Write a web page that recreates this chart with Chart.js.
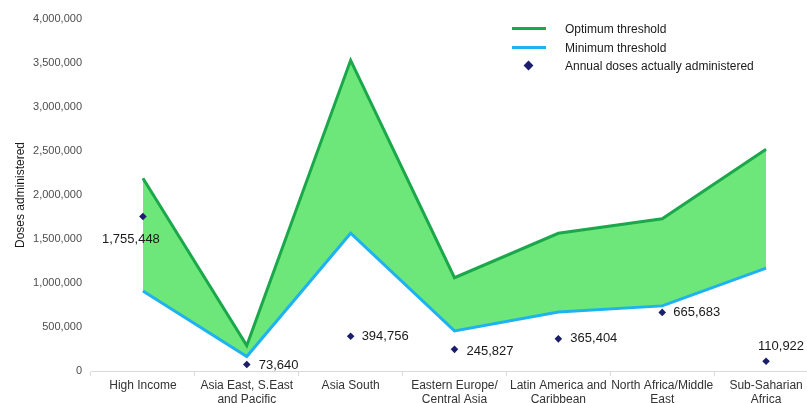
<!DOCTYPE html>
<html>
<head>
<meta charset="utf-8">
<script src="https://cdn.jsdelivr.net/npm/chart.js@4.4.1/dist/chart.umd.min.js"></script>
<style>
  html, body { margin: 0; padding: 0; background: #fff; overflow: hidden; }
  body { width: 807px; height: 403px; position: relative; font-family: "Liberation Sans", Arial, sans-serif; }
  #chart { position: absolute; left: 0; top: 0; }
  #legend { position: absolute; left: 512px; top: 20px; font-size: 12px; color: #1a1a1a; }
  .row { display: flex; align-items: center; height: 18.5px; }
  .sw { width: 34px; height: 10px; position: relative; margin-right: 19px; }
</style>
</head>
<body>
<canvas id="chart" width="830" height="403"></canvas>
<div id="legend"></div>
<script>
// Regioes (rotulos do eixo X, em duas linhas quando necessario)
const regions = [
  ['High Income'],
  ['Asia East, S.East', 'and Pacific'],
  ['Asia South'],
  ['Eastern Europe/', 'Central Asia'],
  ['Latin America and', 'Caribbean'],
  ['North Africa/Middle', 'East'],
  ['Sub-Saharian', 'Africa']
];

// Valores
const optimumThreshold = [2190000, 290000, 3530000, 1060000, 1565000, 1730000, 2520000];
const minimumThreshold = [910000, 165000, 1565000, 455000, 670000, 740000, 1170000];
const actualDoses      = [1755448, 73640, 394756, 245827, 365404, 665683, 110922];

// Eixo Y
const yMax = 4000000;
const yStep = 500000;

const FONT = '"Liberation Sans", Arial, sans-serif';

// Posicao dos rotulos de cada ponto (relativa ao marcador)
const labelPlace = [
  { align: 'center', dx: -12, dy: 23 },
  { align: 'left', dx: 12, dy: 1 },
  { align: 'left', dx: 11, dy: 0 },
  { align: 'left', dx: 12, dy: 2 },
  { align: 'left', dx: 12, dy: 0 },
  { align: 'left', dx: 11, dy: 0 },
  { align: 'center', dx: 15, dy: -15 }
];

// Desenha os valores ao lado dos losangos
const doseLabels = {
  id: 'doseLabels',
  afterDatasetsDraw(chart) {
    const meta = chart.getDatasetMeta(2);
    const ctx = chart.ctx;
    ctx.save();
    ctx.font = '13px ' + FONT;
    ctx.fillStyle = '#1a1a1a';
    ctx.textBaseline = 'middle';
    meta.data.forEach((pt, i) => {
      const p = labelPlace[i];
      ctx.textAlign = p.align;
      ctx.fillText(actualDoses[i].toLocaleString('en-US'), pt.x + p.dx, pt.y + p.dy);
    });
    ctx.restore();
  }
};

const chart = new Chart(document.getElementById('chart'), {
  type: 'line',
  data: {
    labels: regions,
    datasets: [
      {
        label: 'Optimum threshold',
        data: optimumThreshold,
        borderColor: '#1ba84b',
        backgroundColor: '#6ee77a',
        borderWidth: 3,
        pointRadius: 0,
        tension: 0,
        fill: '+1'
      },
      {
        label: 'Minimum threshold',
        data: minimumThreshold,
        borderColor: '#1eb2f0',
        borderWidth: 3,
        pointRadius: 0,
        tension: 0,
        fill: false
      },
      {
        label: 'Annual doses actually administered',
        data: actualDoses,
        showLine: false,
        pointStyle: 'rectRot',
        pointRadius: 3.8,
        pointBackgroundColor: '#1b1f6b',
        pointBorderColor: '#1b1f6b',
        pointBorderWidth: 0,
        fill: false
      }
    ]
  },
  options: {
    responsive: false,
    animation: false,
    layout: { padding: { top: 19, right: 12, left: 0, bottom: 0 } },
    scales: {
      x: {
        offset: true,
        grid: { offset: true, drawOnChartArea: false, drawTicks: true, tickLength: 5, color: '#d9d9d9' },
        border: { display: true, color: '#d9d9d9', width: 1 },
        ticks: {
          maxRotation: 0,
          autoSkip: false,
          padding: 3,
          color: '#333333',
          font: { family: FONT, size: 12, lineHeight: 1.15 }
        },
        afterFit(scale) { scale.height = 32; }
      },
      y: {
        min: 0,
        max: yMax,
        grid: { display: false, drawTicks: false },
        border: { display: false },
        ticks: {
          stepSize: yStep,
          padding: 9,
          color: '#4d4d4d',
          font: { family: FONT, size: 11 },
          callback: v => v.toLocaleString('en-US')
        },
        title: {
          display: true,
          text: 'Doses administered',
          color: '#1a1a1a',
          font: { family: FONT, size: 12 },
          padding: { top: 13, bottom: 0 }
        },
        afterFit(scale) { scale.width = 91; }
      }
    },
    plugins: {
      legend: { display: false },
      tooltip: { enabled: false },
      filler: { drawTime: 'beforeDatasetsDraw' }
    }
  },
  plugins: [doseLabels]
});

// Legenda em HTML, montada a partir dos datasets
const legend = document.getElementById('legend');
chart.data.datasets.forEach(ds => {
  const row = document.createElement('div');
  row.className = 'row';
  const sw = document.createElement('div');
  sw.className = 'sw';
  if (ds.showLine === false) {
    sw.innerHTML = '<div style="position:absolute;left:13px;top:1px;width:7px;height:7px;background:' +
      ds.pointBackgroundColor + ';transform:rotate(45deg)"></div>';
  } else {
    sw.innerHTML = '<div style="position:absolute;left:0;top:3px;width:34px;height:3px;background:' +
      ds.borderColor + '"></div>';
  }
  const txt = document.createElement('span');
  txt.textContent = ds.label;
  row.appendChild(sw);
  row.appendChild(txt);
  legend.appendChild(row);
});
</script>
</body>
</html>
